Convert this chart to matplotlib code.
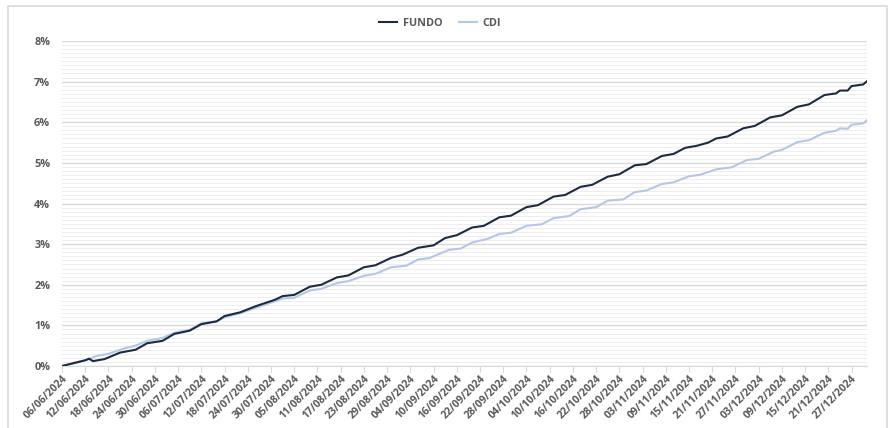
import pandas as pd
import matplotlib
matplotlib.use("Agg")
import matplotlib.pyplot as plt
import matplotlib.dates as mdates
from matplotlib.ticker import MultipleLocator, FuncFormatter
from matplotlib.patches import Rectangle

# Data (cumulative return, %)
fundo_dates = [
    "06/06/2024", "09/06/2024", "12/06/2024", "13/06/2024", "14/06/2024", "17/06/2024",
    "21/06/2024", "25/06/2024", "28/06/2024", "02/07/2024", "05/07/2024", "09/07/2024",
    "12/07/2024", "16/07/2024", "18/07/2024", "22/07/2024", "26/07/2024", "31/07/2024",
    "02/08/2024", "05/08/2024", "09/08/2024", "12/08/2024", "16/08/2024", "19/08/2024",
    "23/08/2024", "26/08/2024", "30/08/2024", "02/09/2024", "06/09/2024", "10/09/2024",
    "13/09/2024", "16/09/2024", "20/09/2024", "23/09/2024", "27/09/2024", "30/09/2024",
    "04/10/2024", "07/10/2024", "11/10/2024", "14/10/2024", "18/10/2024", "21/10/2024",
    "25/10/2024", "28/10/2024", "01/11/2024", "04/11/2024", "08/11/2024", "11/11/2024",
    "14/11/2024", "17/11/2024", "20/11/2024", "22/11/2024", "25/11/2024", "29/11/2024",
    "02/12/2024", "06/12/2024", "09/12/2024", "13/12/2024", "16/12/2024", "20/12/2024",
    "23/12/2024", "24/12/2024", "26/12/2024", "27/12/2024", "30/12/2024", "31/12/2024",
]
fundo_vals = [
    0.00, 0.07, 0.14, 0.18, 0.12, 0.17,
    0.33, 0.40, 0.56, 0.62, 0.79, 0.87,
    1.03, 1.10, 1.23, 1.32, 1.47, 1.63,
    1.72, 1.75, 1.95, 2.00, 2.18, 2.23,
    2.43, 2.48, 2.66, 2.74, 2.91, 2.97,
    3.15, 3.22, 3.41, 3.45, 3.66, 3.70,
    3.91, 3.96, 4.17, 4.21, 4.41, 4.46,
    4.66, 4.72, 4.94, 4.97, 5.17, 5.22,
    5.37, 5.42, 5.50, 5.60, 5.65, 5.85,
    5.91, 6.12, 6.17, 6.38, 6.44, 6.67,
    6.71, 6.78, 6.78, 6.89, 6.93, 7.01,
]

cdi_dates = [
    "06/06/2024", "09/06/2024", "13/06/2024", "15/06/2024", "18/06/2024", "22/06/2024",
    "25/06/2024", "28/06/2024", "02/07/2024", "05/07/2024", "09/07/2024", "12/07/2024",
    "16/07/2024", "18/07/2024", "22/07/2024", "26/07/2024", "02/08/2024", "05/08/2024",
    "09/08/2024", "12/08/2024", "16/08/2024", "19/08/2024", "23/08/2024", "26/08/2024",
    "30/08/2024", "03/09/2024", "06/09/2024", "09/09/2024", "14/09/2024", "17/09/2024",
    "20/09/2024", "24/09/2024", "27/09/2024", "30/09/2024", "04/10/2024", "08/10/2024",
    "11/10/2024", "15/10/2024", "18/10/2024", "22/10/2024", "25/10/2024", "29/10/2024",
    "01/11/2024", "04/11/2024", "08/11/2024", "11/11/2024", "15/11/2024", "18/11/2024",
    "22/11/2024", "26/11/2024", "30/11/2024", "03/12/2024", "07/12/2024", "09/12/2024",
    "13/12/2024", "16/12/2024", "20/12/2024", "23/12/2024", "24/12/2024", "26/12/2024",
    "27/12/2024", "30/12/2024", "31/12/2024",
]
cdi_vals = [
    0.00, 0.07, 0.17, 0.25, 0.30, 0.43,
    0.50, 0.62, 0.69, 0.82, 0.89, 1.05,
    1.10, 1.20, 1.30, 1.43, 1.66, 1.68,
    1.86, 1.90, 2.04, 2.09, 2.22, 2.27,
    2.43, 2.47, 2.62, 2.66, 2.86, 2.89,
    3.04, 3.13, 3.25, 3.28, 3.45, 3.49,
    3.64, 3.69, 3.86, 3.91, 4.07, 4.10,
    4.28, 4.32, 4.48, 4.52, 4.67, 4.71,
    4.84, 4.89, 5.07, 5.10, 5.28, 5.32,
    5.51, 5.56, 5.74, 5.79, 5.85, 5.84,
    5.94, 5.97, 6.05,
]

FONT = "Open Sans"
TXT = "#595959"
FUNDO_COLOR = "#1C2B3F"
CDI_COLOR = "#B4C7E7"

fundo_x = pd.to_datetime(fundo_dates, format="%d/%m/%Y")
cdi_x = pd.to_datetime(cdi_dates, format="%d/%m/%Y")
start = pd.Timestamp("2024-06-06")
end = pd.Timestamp("2024-12-31")

fig = plt.figure(figsize=(8.93, 4.28), dpi=100)
ax = fig.add_axes([62 / 893, 1 - 366 / 428, (867 - 62) / 893, (366 - 41) / 428])

ax.plot(fundo_x, fundo_vals, color=FUNDO_COLOR, lw=1.5, label="FUNDO", zorder=3)
ax.plot(cdi_x, cdi_vals, color=CDI_COLOR, lw=1.5, label="CDI", zorder=2)

ax.set_xlim(start, end)
ax.set_ylim(0, 8)

# y axis: major every 1%, minor every 0.1%
ax.yaxis.set_major_locator(MultipleLocator(1))
ax.yaxis.set_minor_locator(MultipleLocator(0.1))
ax.yaxis.set_major_formatter(FuncFormatter(lambda v, p: f"{int(round(v))}%"))
ax.grid(axis="y", which="major", color="#D9D9D9", lw=1.0, zorder=0)
ax.grid(axis="y", which="minor", color="#EEEEEE", lw=0.8, zorder=0)
ax.tick_params(axis="y", which="both", length=0, pad=8.5)

# x axis: a tick every 6 days
ticks = pd.date_range(start, end, freq="6D")
ax.set_xticks(ticks)
ax.xaxis.set_major_formatter(mdates.DateFormatter("%d/%m/%Y"))
ax.tick_params(axis="x", length=4, color="#D9D9D9", pad=1)
plt.setp(ax.get_xticklabels(), rotation=45, ha="right", rotation_mode="anchor")

for lbl in ax.get_xticklabels() + ax.get_yticklabels():
    lbl.set_fontfamily(FONT)
    lbl.set_fontweight("bold")
    lbl.set_color(TXT)
    lbl.set_fontsize(7.6)
for lbl in ax.get_yticklabels():
    lbl.set_fontsize(7.8)

for s in ["left", "right", "top"]:
    ax.spines[s].set_visible(False)
ax.spines["bottom"].set_color("#D9D9D9")
ax.set_axisbelow(True)

leg = fig.legend(loc="center", bbox_to_anchor=(440 / 893, 1 - 23 / 428), ncol=2,
                 frameon=False, handlelength=1.7, columnspacing=1.5, handletextpad=0.5,
                 prop={"family": FONT, "weight": "bold", "size": 7.8})
for t in leg.get_texts():
    t.set_color(TXT)

# chart area border
fig.patches.append(Rectangle((8 / 893, -0.1), 879 / 893, 1.1 - 6 / 428,
                             transform=fig.transFigure, fill=False,
                             edgecolor="#D9D9D9", lw=1.2))

fig.savefig("out.png", dpi=100)
